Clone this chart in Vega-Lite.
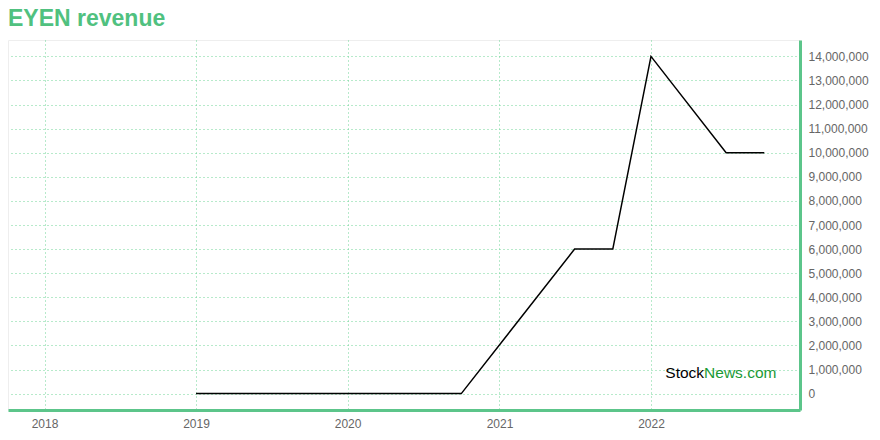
{
  "$schema": "https://vega.github.io/schema/vega-lite/v6.json",
  "width": 792,
  "height": 370,
  "autosize": "none",
  "padding": {"left": 8, "top": 40, "right": 80, "bottom": 30},
  "background": "white",
  "title": {
    "text": "EYEN revenue",
    "anchor": "start",
    "frame": "group",
    "font": "Liberation Sans",
    "fontSize": 23,
    "fontWeight": "bold",
    "color": "#50c17f",
    "offset": 9
  },
  "config": {
    "view": {"stroke": "#eeeeee"},
    "font": "Liberation Sans",
    "axis": {
      "grid": true,
      "gridColor": "#6fd496",
      "gridDash": [1, 3],
      "gridWidth": 1,
      "domainColor": "#5cc58a",
      "domainWidth": 3,
      "ticks": false,
      "labelPadding": 8,
      "labelColor": "#666666",
      "labelFontSize": 12,
      "labelFont": "Liberation Sans"
    }
  },
  "layer": [
    {
      "data": {
        "values": [
          {"date": "2019-01-01", "revenue": 0},
          {"date": "2019-04-01", "revenue": 0},
          {"date": "2019-07-01", "revenue": 0},
          {"date": "2019-10-01", "revenue": 0},
          {"date": "2020-01-01", "revenue": 0},
          {"date": "2020-04-01", "revenue": 0},
          {"date": "2020-07-01", "revenue": 0},
          {"date": "2020-10-01", "revenue": 0},
          {"date": "2021-07-01", "revenue": 6000000},
          {"date": "2021-10-01", "revenue": 6000000},
          {"date": "2022-01-01", "revenue": 14000000},
          {"date": "2022-07-01", "revenue": 10000000},
          {"date": "2022-10-01", "revenue": 10000000}
        ]
      },
      "mark": {"type": "line", "color": "#000000", "strokeWidth": 1.5},
      "encoding": {
        "x": {
          "field": "date",
          "type": "temporal",
          "scale": {"domain": [{"year": 2017, "month": 10, "date": 5}, {"year": 2022, "month": 12, "date": 26}]},
          "axis": {"title": null, "format": "%Y", "tickCount": {"interval": "year", "step": 1}}
        },
        "y": {
          "field": "revenue",
          "type": "quantitative",
          "scale": {"domain": [-680000, 14680000], "nice": false, "zero": false},
          "axis": {
            "orient": "right",
            "title": null,
            "values": [0, 1000000, 2000000, 3000000, 4000000, 5000000, 6000000, 7000000, 8000000, 9000000, 10000000, 11000000, 12000000, 13000000, 14000000],
            "format": ",d"
          }
        }
      }
    },
    {
      "data": {"values": [{"part": "Stock"}]},
      "mark": {"type": "text", "text": "Stock", "align": "right", "baseline": "middle", "fontSize": 15.5, "font": "Liberation Sans", "color": "#000000"},
      "encoding": {
        "x": {"datum": {"year": 2022, "month": 5, "date": 9}, "type": "temporal",
          "axis": {"title": null, "format": "%Y", "tickCount": {"interval": "year", "step": 1}}},
        "y": {"datum": 870000, "type": "quantitative",
          "axis": {
            "orient": "right",
            "title": null,
            "values": [0, 1000000, 2000000, 3000000, 4000000, 5000000, 6000000, 7000000, 8000000, 9000000, 10000000, 11000000, 12000000, 13000000, 14000000],
            "format": ",d"
          }}
      }
    },
    {
      "data": {"values": [{"part": "News.com"}]},
      "mark": {"type": "text", "text": "News.com", "align": "left", "baseline": "middle", "fontSize": 15.5, "font": "Liberation Sans", "color": "#1a9a36"},
      "encoding": {
        "x": {"datum": {"year": 2022, "month": 5, "date": 9}, "type": "temporal",
          "axis": {"title": null, "format": "%Y", "tickCount": {"interval": "year", "step": 1}}},
        "y": {"datum": 870000, "type": "quantitative",
          "axis": {
            "orient": "right",
            "title": null,
            "values": [0, 1000000, 2000000, 3000000, 4000000, 5000000, 6000000, 7000000, 8000000, 9000000, 10000000, 11000000, 12000000, 13000000, 14000000],
            "format": ",d"
          }}
      }
    }
  ]
}
